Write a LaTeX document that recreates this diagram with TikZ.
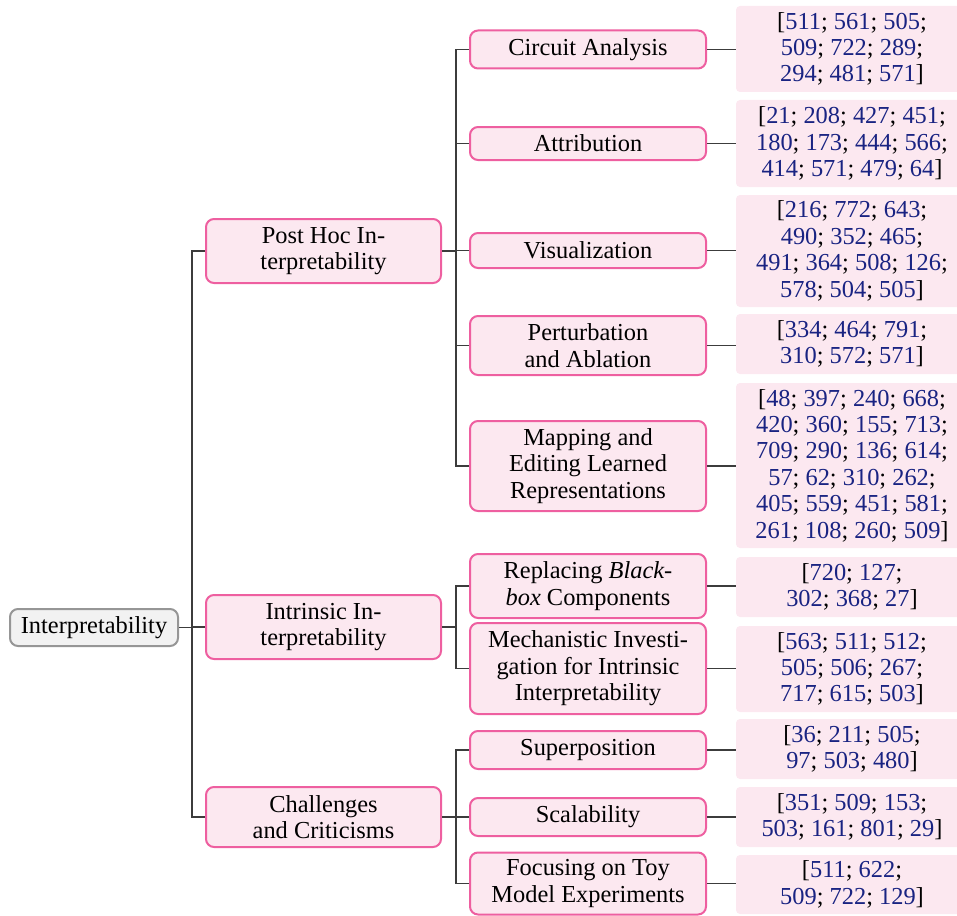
\documentclass[tikz,border=0pt]{standalone}
\usepackage{fontspec}
\setmainfont{LiberationSerif}[Extension=.ttf, UprightFont=*-Regular, ItalicFont=*-Italic, BoldFont=*-Bold]
\definecolor{pinkfill}{RGB}{252,232,240}
\definecolor{pinkdraw}{RGB}{238,95,160}
\definecolor{grayfill}{RGB}{242,242,242}
\definecolor{graydraw}{RGB}{150,150,150}
\definecolor{citeblue}{RGB}{25,35,130}
\definecolor{edgegray}{RGB}{60,60,60}
\newcommand{\citeN}[1]{\textcolor{citeblue}{#1}}
\tikzset{
  basefont/.style={font=\rmfamily\fontsize{12.2}{13.2}\selectfont, align=center, inner sep=0pt},
  rootbox/.style={basefont, draw=graydraw, fill=grayfill, line width=1pt, rounded corners=4pt, minimum width=84pt, minimum height=18.5pt},
  catbox/.style={basefont, draw=pinkdraw, fill=pinkfill, line width=1pt, rounded corners=4pt, minimum width=117.5pt},
  subbox/.style={basefont, draw=pinkdraw, fill=pinkfill, line width=1pt, rounded corners=4pt, minimum width=118pt},
  leafbox/.style={basefont, fill=pinkfill, rounded corners=2pt, minimum width=116pt},
  edge/.style={draw=edgegray, line width=0.6pt}
}
\begin{document}
\begin{tikzpicture}[x=0.5pt,y=-0.5pt]
\useasboundingbox (0,0) rectangle (957,915);
\clip (0,0) rectangle (957,915);
% root
\node[rootbox] (root) at (94,627.5) {Interpretability};
% level 1
\node[catbox, minimum height=32pt] (ph) at (323.5,251) {Post Hoc In-\\terpretability};
\node[catbox, minimum height=32pt] (ii) at (323.5,627) {Intrinsic In-\\terpretability};
\node[catbox, minimum height=30pt] (cc) at (323.5,817) {Challenges\\and Criticisms};
% level 2
\node[subbox, minimum height=19pt] (ca) at (588,49.5) {Circuit Analysis};
\node[subbox, minimum height=16.5pt] (at) at (588,143.5) {Attribution};
\node[subbox, minimum height=17.5pt] (vi) at (588,250.5) {Visualization};
\node[subbox, minimum height=29.5pt] (pa) at (588,345.5) {Perturbation\\and Ablation};
\node[subbox, minimum height=45pt] (me) at (588,466) {Mapping and\\Editing Learned\\Representations};
\node[subbox, minimum height=32pt] (rb) at (588,586) {Replacing \textit{Black-}\\\textit{box} Components};
\node[subbox, minimum height=45.5pt] (mi) at (588,668.5) {Mechanistic Investi-\\gation for Intrinsic\\Interpretability};
\node[subbox, minimum height=19pt] (sp) at (588,750) {Superposition};
\node[subbox, minimum height=19pt] (sc) at (588,817) {Scalability};
\node[subbox, minimum height=31pt] (ft) at (588,883.5) {Focusing on Toy\\Model Experiments};
% level 3
\node[leafbox, minimum height=43pt] (caL) at (852,49) {[\citeN{511}; \citeN{561}; \citeN{505};\\\citeN{509}; \citeN{722}; \citeN{289};\\\citeN{294}; \citeN{481}; \citeN{571}]};
\node[leafbox, minimum height=43.5pt] (atL) at (852,143.5) {[\citeN{21}; \citeN{208}; \citeN{427}; \citeN{451};\\\citeN{180}; \citeN{173}; \citeN{444}; \citeN{566};\\\citeN{414}; \citeN{571}; \citeN{479}; \citeN{64}]};
\node[leafbox, minimum height=56pt] (viL) at (852,251) {[\citeN{216}; \citeN{772}; \citeN{643};\\\citeN{490}; \citeN{352}; \citeN{465};\\\citeN{491}; \citeN{364}; \citeN{508}; \citeN{126};\\\citeN{578}; \citeN{504}; \citeN{505}]};
\node[leafbox, minimum height=30pt] (paL) at (852,344) {[\citeN{334}; \citeN{464}; \citeN{791};\\\citeN{310}; \citeN{572}; \citeN{571}]};
\node[leafbox, minimum height=82.5pt] (meL) at (852,465.5) {[\citeN{48}; \citeN{397}; \citeN{240}; \citeN{668};\\\citeN{420}; \citeN{360}; \citeN{155}; \citeN{713};\\\citeN{709}; \citeN{290}; \citeN{136}; \citeN{614};\\\citeN{57}; \citeN{62}; \citeN{310}; \citeN{262};\\\citeN{405}; \citeN{559}; \citeN{451}; \citeN{581};\\\citeN{261}; \citeN{108}; \citeN{260}; \citeN{509}]};
\node[leafbox, minimum height=30pt] (rbL) at (852,587) {[\citeN{720}; \citeN{127};\\\citeN{302}; \citeN{368}; \citeN{27}]};
\node[leafbox, minimum height=43pt] (miL) at (852,669) {[\citeN{563}; \citeN{511}; \citeN{512};\\\citeN{505}; \citeN{506}; \citeN{267};\\\citeN{717}; \citeN{615}; \citeN{503}]};
\node[leafbox, minimum height=30pt] (spL) at (852,749) {[\citeN{36}; \citeN{211}; \citeN{505};\\\citeN{97}; \citeN{503}; \citeN{480}]};
\node[leafbox, minimum height=30pt] (scL) at (852,817) {[\citeN{351}; \citeN{509}; \citeN{153};\\\citeN{503}; \citeN{161}; \citeN{801}; \citeN{29}]};
\node[leafbox, minimum height=29.5pt] (ftL) at (852,884.5) {[\citeN{511}; \citeN{622};\\\citeN{509}; \citeN{722}; \citeN{129}]};
% fork coordinates
\coordinate (f1) at (192,0);
\coordinate (f2) at (456,0);
% edges root -> level 1
\foreach \c in {ph,ii,cc}
  \draw[edge] (root.east) -- (root.east -| f1) |- (\c.west);
% edges level 1 -> level 2
\foreach \c in {ca,at,vi,pa,me}
  \draw[edge] (ph.east) -- (ph.east -| f2) |- (\c.west);
\foreach \c in {rb,mi}
  \draw[edge] (ii.east) -- (ii.east -| f2) |- (\c.west);
\foreach \c in {sp,sc,ft}
  \draw[edge] (cc.east) -- (cc.east -| f2) |- (\c.west);
% edges level 2 -> level 3
\foreach \a/\b in {ca/caL,at/atL,vi/viL,pa/paL,me/meL,rb/rbL,mi/miL,sp/spL,sc/scL,ft/ftL}
  \draw[edge] (\a.east) -- (\a.east -| \b.west);
\end{tikzpicture}
\end{document}
